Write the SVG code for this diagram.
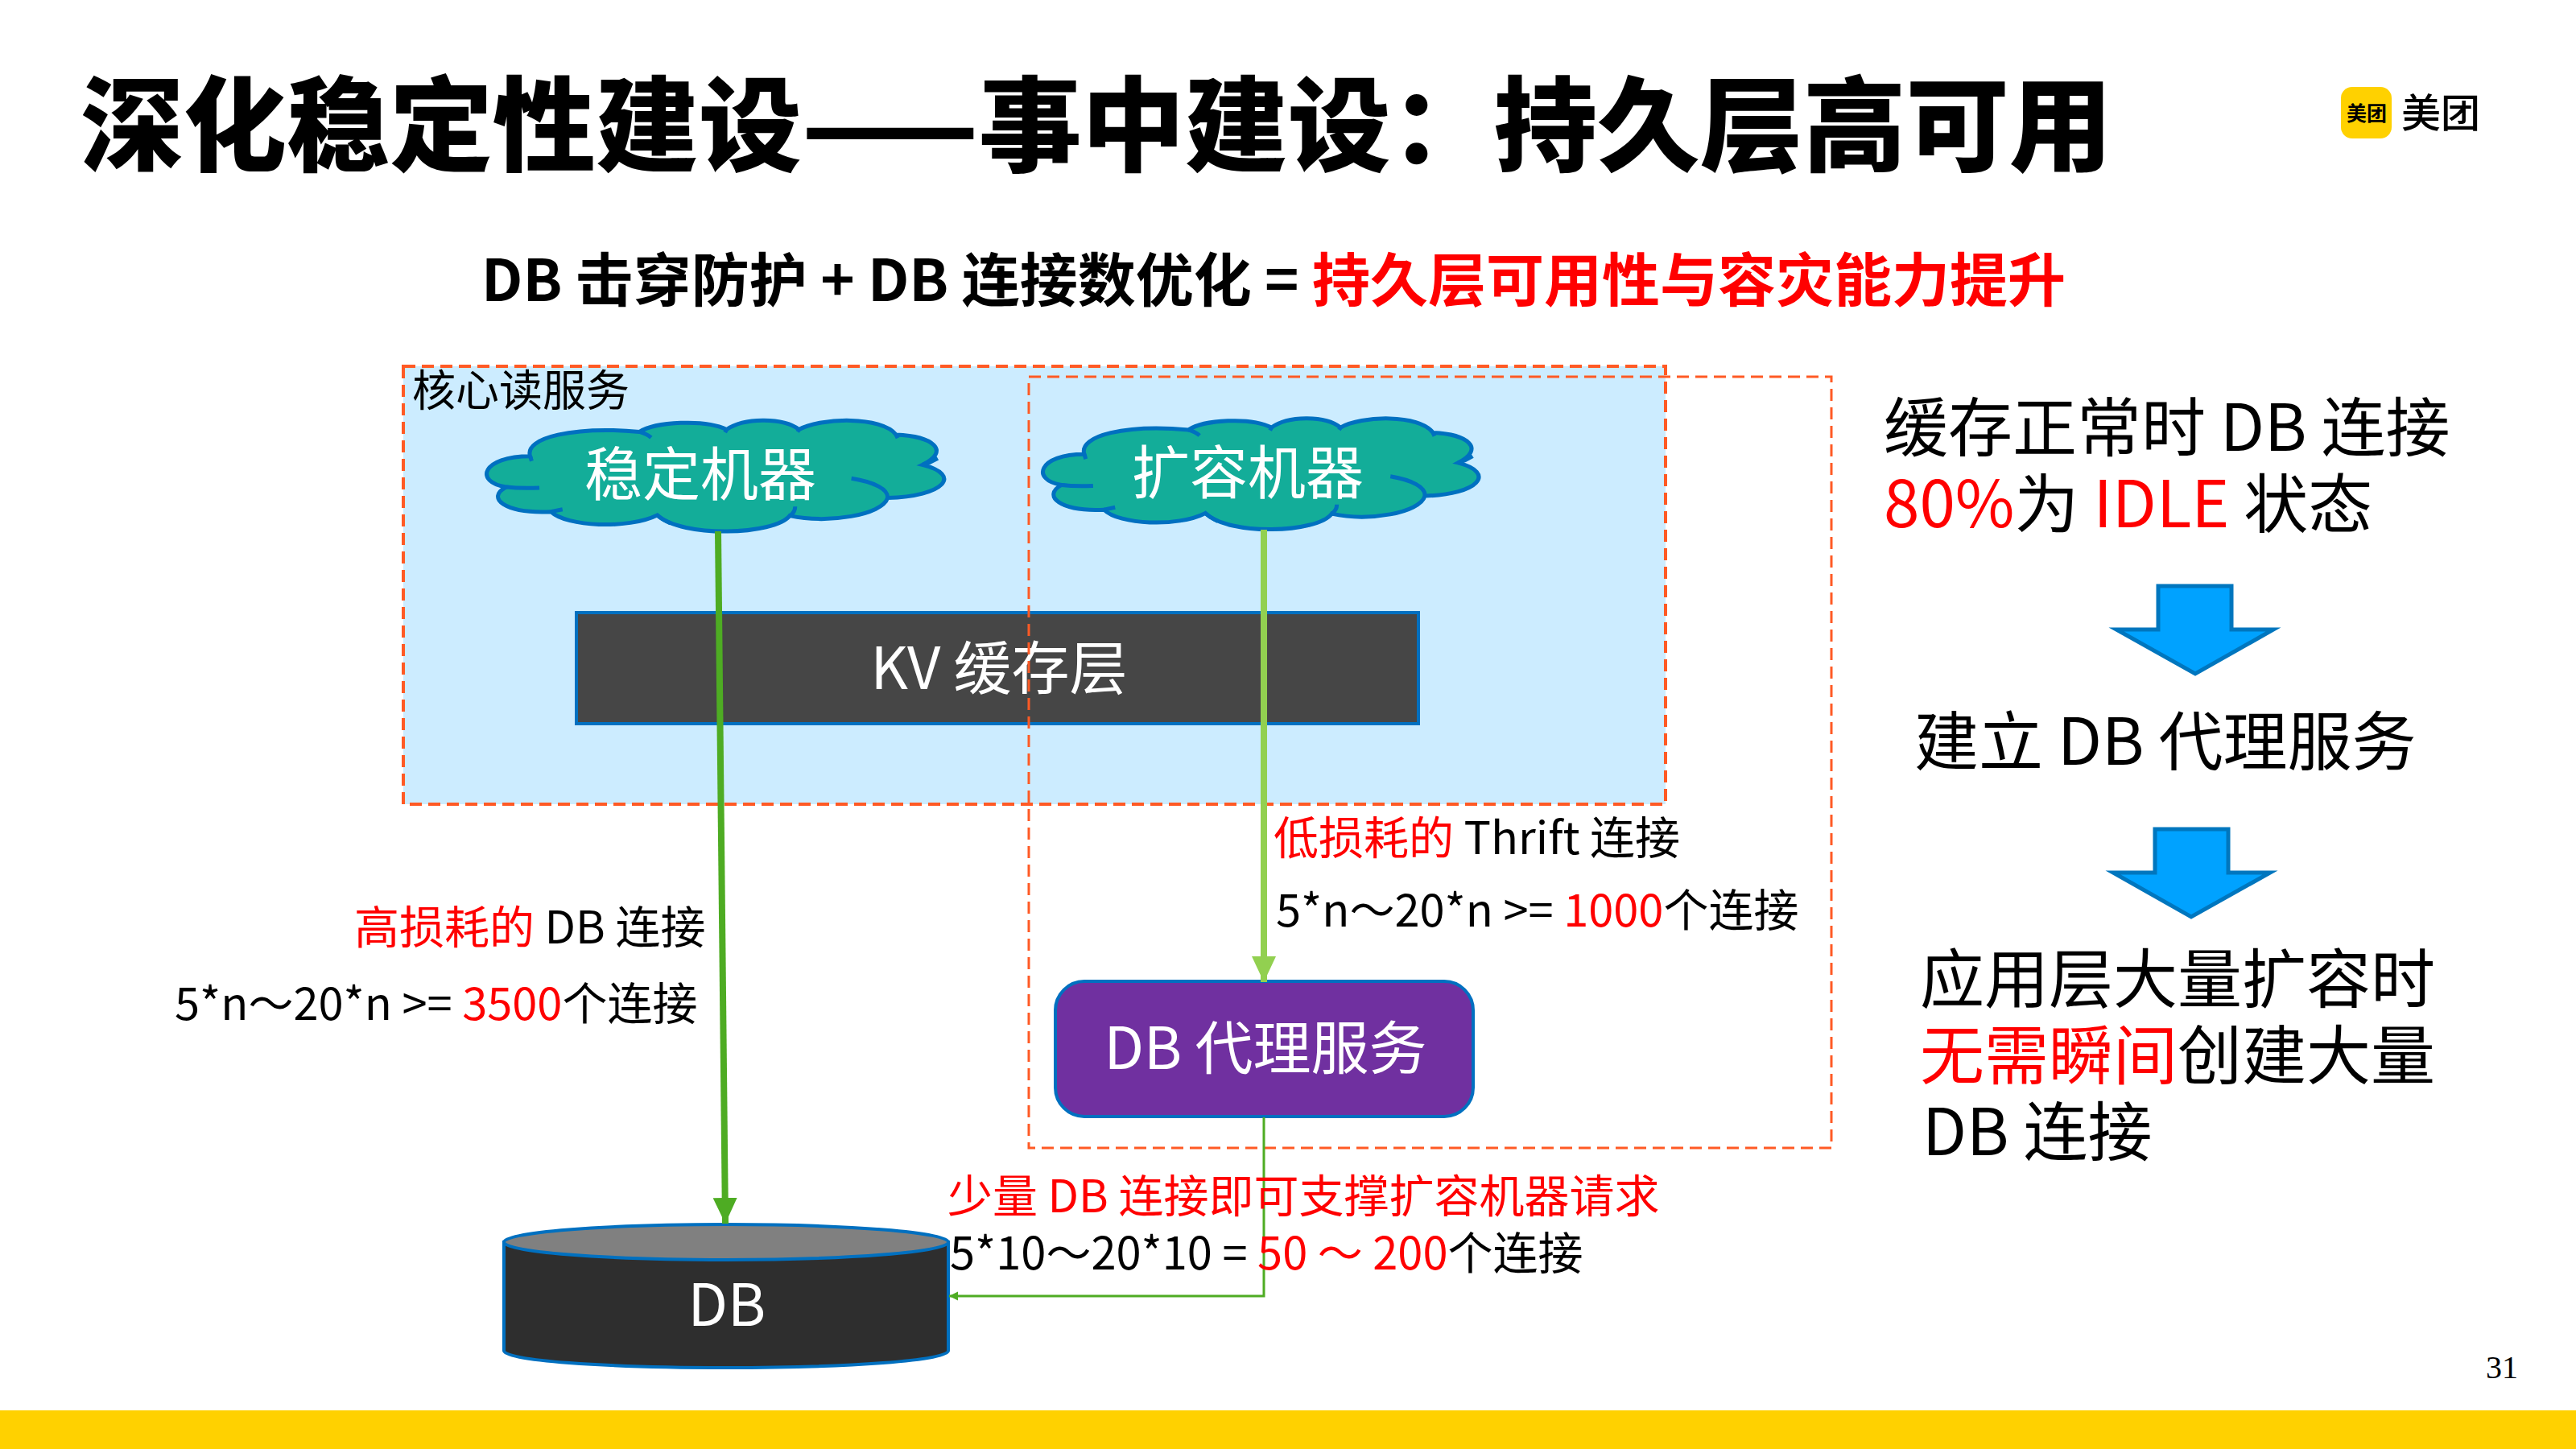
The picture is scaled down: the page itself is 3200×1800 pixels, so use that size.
<svg xmlns="http://www.w3.org/2000/svg" width="3200" height="1800" viewBox="0 0 3200 1800">
<style>
text{font-family:"Noto Sans CJK SC","Noto Sans",sans-serif;fill:#000}
.r{fill:#f00}
.w{fill:#fff;text-anchor:middle;font-size:72px}
.l{font-size:56px}
.b{font-size:80px}
.dash{fill:none;stroke:#FF5A25;stroke-dasharray:15 8}
.cl{fill:#13AD99;stroke:#0070C0;stroke-width:5;vector-effect:non-scaling-stroke}
.cd{fill:none;stroke:#0070C0;stroke-width:5;vector-effect:non-scaling-stroke}
.ba{fill:#00A2FF;stroke:#0076BE;stroke-width:5}
</style>
<defs>
<marker id="hd" markerUnits="userSpaceOnUse" markerWidth="32" markerHeight="32" refX="32" refY="15" orient="auto"><path d="M0 0L32 15L0 30Z" fill="#4EAC23"/></marker>
<marker id="hl" markerUnits="userSpaceOnUse" markerWidth="32" markerHeight="32" refX="32" refY="15" orient="auto"><path d="M0 0L32 15L0 30Z" fill="#92D050"/></marker>
<marker id="hs" markerUnits="userSpaceOnUse" markerWidth="12" markerHeight="12" refX="11" refY="5.5" orient="auto"><path d="M0 0L11 5.5L0 11Z" fill="#4EAC23"/></marker>
<g id="cloud">
<path class="cl" d="M103,355C95,290 160,250 245,270C265,235 330,225 358,262C380,222 430,218 452,262C480,220 560,215 578,280C625,285 650,335 612,385C665,420 640,495 567,500C560,560 490,590 440,562C420,630 300,640 268,560C230,610 150,600 130,548C70,555 45,500 72,462C30,445 40,355 103,355Z"/>
<path class="cd" d="M245,270Q255,278 260,290M358,262L356,272M452,262L450,270M578,280L580,292M612,385Q622,378 632,362M567,500C568,470 550,445 520,432M440,562Q447,550 447,530M268,560Q272,572 285,588M130,548L145,540M72,462Q90,468 115,465M103,355L105,372"/>
</g>
</defs>
<rect width="3200" height="1800" fill="#fff"/>
<rect x="0" y="1752" width="3200" height="48" fill="#FFD100"/>
<text x="100" y="203" font-size="128" font-weight="900">深化稳定性建设——事中建设：持久层高可用</text>
<g id="logo">
<rect x="2908" y="108" width="63" height="64" rx="14" fill="#FFD100"/>
<text x="2915" y="150" font-size="25" font-weight="700">美团</text>
<text x="2983" y="158" font-size="49" font-weight="500">美团</text>
</g>
<text x="3088" y="1712" font-size="40" style="font-family:'Liberation Serif',serif" fill="#333">31</text>
<text x="598" y="374" font-size="72" font-weight="700">DB 击穿防护 + DB 连接数优化 = <tspan class="r">持久层可用性与容灾能力提升</tspan></text>

<g id="core-read-service">
<rect x="501" y="455" width="1568" height="544" fill="#CCECFF" stroke="#FF5A25" stroke-width="4" stroke-dasharray="15 8"/>
<text x="512" y="505" font-size="54">核心读服务</text>
</g>
<g id="stable-machines">
<use href="#cloud" transform="translate(560 440) scale(.957 .357)"/>
<text class="w" x="870" y="615">稳定机器</text>
</g>
<g id="scaled-machines">
<use href="#cloud" transform="translate(1253 437.5) scale(.912 .357)"/>
<text class="w" x="1550" y="613">扩容机器</text>
</g>
<g id="kv-cache">
<rect x="716" y="761" width="1046" height="138" fill="#464646" stroke="#0070C0" stroke-width="4"/>
<text class="w" x="1241" y="856">KV 缓存层</text>
</g>
<g id="scale-out-boundary">
<rect class="dash" x="1278" y="468" width="997" height="958" stroke-width="3"/>
</g>
<g id="db-proxy">
<rect x="1311" y="1219" width="519" height="168" rx="36" fill="#7030A0" stroke="#0070C0" stroke-width="4"/>
<text class="w" x="1572" y="1328">DB 代理服务</text>
</g>
<g id="db">
<path d="M626,1543V1678C626,1690 750,1699 902,1699C1054,1699 1178,1690 1178,1678V1543Z" fill="#2E2E2E" stroke="#0070C0" stroke-width="4"/>
<ellipse cx="902" cy="1543" rx="276" ry="22" fill="#808080" stroke="#0070C0" stroke-width="4"/>
<text class="w" x="903" y="1647">DB</text>
</g>
<g id="connectors" fill="none">
<path d="M892,660L901,1520" stroke="#4EAC23" stroke-width="8" marker-end="url(#hd)"/>
<path d="M1570,658V1220" stroke="#92D050" stroke-width="8" marker-end="url(#hl)"/>
<path d="M1570,1388V1610H1179" stroke="#4EAC23" stroke-width="3" marker-end="url(#hs)"/>
</g>
<text class="l" x="1582" y="1061"><tspan class="r">低损耗的</tspan> Thrift 连接</text>
<text class="l" x="1585" y="1151">5*n～20*n >= <tspan class="r">1000</tspan>个连接</text>
<text class="l" x="440" y="1172"><tspan class="r">高损耗的</tspan> DB 连接</text>
<text class="l" x="217" y="1267">5*n～20*n >= <tspan class="r">3500</tspan>个连接</text>
<text class="l r" x="1177" y="1506">少量 DB 连接即可支撑扩容机器请求</text>
<text class="l" x="1180" y="1577">5*10～20*10 = <tspan class="r">50 ～ 200</tspan>个连接</text>

<text class="b" x="2340" y="560">缓存正常时 DB 连接</text>
<text class="b" x="2340" y="655"><tspan class="r">80%</tspan>为 <tspan class="r">IDLE</tspan> 状态</text>
<path class="ba" d="M2681,728H2772V782H2824L2727,837L2629,782H2681Z"/>
<text class="b" x="2378" y="950">建立 DB 代理服务</text>
<path class="ba" d="M2677,1030H2768V1084H2820L2722,1139L2625,1084H2677Z"/>
<text class="b" x="2385" y="1245">应用层大量扩容时</text>
<text class="b" x="2385" y="1340"><tspan class="r">无需瞬间</tspan>创建大量</text>
<text class="b" x="2388" y="1435">DB 连接</text>
</svg>
